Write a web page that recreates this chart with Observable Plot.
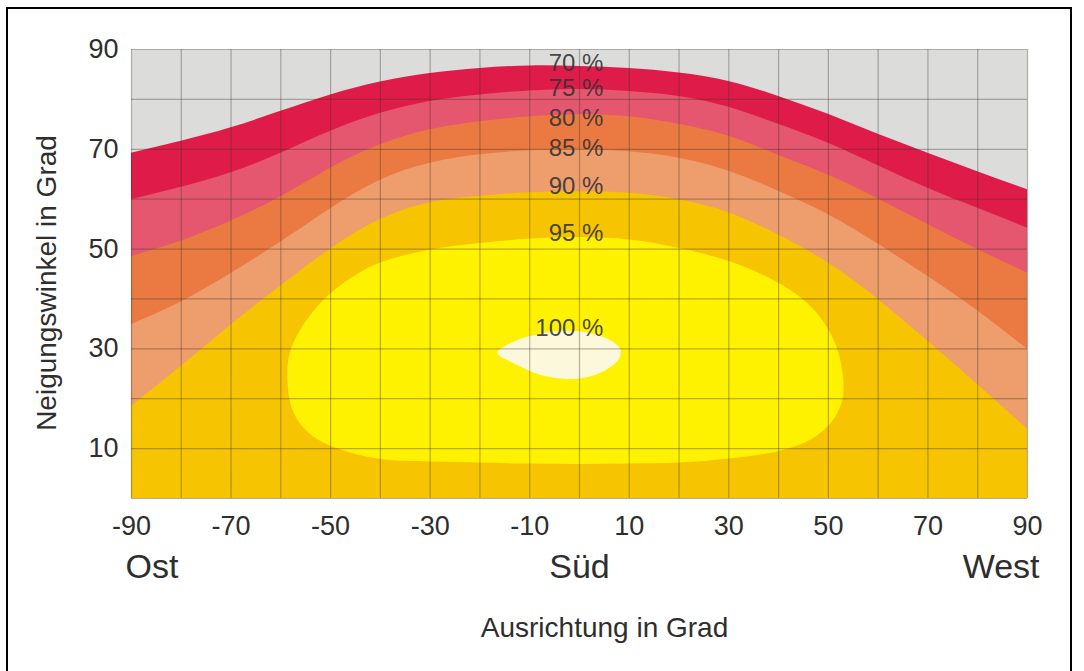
<!DOCTYPE html>
<html>
<head>
<meta charset="utf-8">
<script src="https://cdn.jsdelivr.net/npm/d3@7"></script>
<script src="https://cdn.jsdelivr.net/npm/@observablehq/plot@0.6"></script>
<style>
  html, body { margin: 0; padding: 0; background: #fff; }
  #wrap { position: relative; width: 1084px; height: 671px; overflow: hidden; }
  #border { position: absolute; left: 6px; top: 7px; width: 1066px; height: 700px; border: 2px solid #000; box-sizing: border-box; pointer-events: none; }
</style>
</head>
<body>
<div id="wrap"><div id="border"></div></div>
<script>
// Azimuth (Ausrichtung) samples and the upper boundary of each efficiency band (Neigungswinkel)
const azimuth = [-90, -80, -70, -60, -50, -40, -30, -20, -10, 0, 10, 20, 30, 40, 50, 60, 70, 80, 90];
const lvl70 = [69.2, 71.6, 74.3, 77.6, 80.9, 83.5, 85.2, 86.2, 86.7, 86.6, 86.2, 85.3, 83.6, 80.6, 77.0, 73.0, 69.2, 65.5, 61.9];
const lvl75 = [59.9, 62.4, 65.3, 69.2, 73.6, 77.2, 79.6, 80.9, 81.7, 82.0, 81.6, 80.6, 78.4, 75.0, 71.2, 66.7, 62.2, 58.2, 54.2];
const lvl80 = [48.5, 51.6, 55.6, 60.5, 66.2, 70.9, 73.9, 75.5, 76.5, 76.9, 76.5, 75.0, 72.6, 68.8, 64.8, 60.1, 54.9, 49.9, 45.2];
const lvl85 = [34.9, 39.4, 45.1, 51.4, 58.1, 63.8, 67.2, 68.9, 69.7, 69.9, 69.5, 68.2, 65.6, 61.6, 56.9, 51.0, 44.5, 37.6, 29.9];
const lvl90 = [18.5, 26.5, 34.8, 42.6, 50.0, 55.9, 59.3, 60.6, 61.3, 61.5, 61.2, 59.9, 57.3, 52.8, 47.2, 39.9, 31.5, 22.8, 13.9];

// closed 95 % region
const blob95Az   = [-58.7, -58.2, -56.3, -53.3, -49.5, -45, -40, -30, -20, -10, 0, 10, 20, 30, 37.5, 43.5, 48, 51.2, 52.8, 52.8, 50.5, 46.5, 40, 30, 20, 10, 0, -10, -20, -30, -40, -48.5, -54.2, -57.6];
const blob95Tilt = [24.3, 29.2, 33.5, 37.8, 41.6, 44.8, 47.3, 49.9, 51.2, 52.1, 52.4, 51.9, 50.2, 47.6, 44.5, 41.0, 36.8, 31.5, 25.5, 19.8, 15.2, 11.9, 9.5, 8.0, 7.2, 7.0, 6.9, 7.0, 7.2, 7.4, 7.9, 10.0, 13.0, 17.6];

// closed 100 % region
const blob100Az   = [-16.5, -13, -8, -4, 0, 4, 7, 8.3, 7.8, 5, 1, -3, -8, -13];
const blob100Tilt = [29.2, 31.5, 33, 33.6, 33.5, 32.6, 31.2, 29.6, 27.8, 25.6, 24.2, 24.0, 24.8, 27.0];

// contour labels
const labelText = ["70 %", "75 %", "80 %", "85 %", "90 %", "95 %", "100 %"];
const labelTilt = [87.2, 82.2, 76.2, 70.2, 62.5, 53.2, 34.2];
const labelAz   = [4.8, 4.8, 4.8, 4.8, 4.8, 4.8, 4.8];

// axes
const xTicks = [-90, -70, -50, -30, -10, 10, 30, 50, 70, 90];
const yTicks = [10, 30, 50, 70, 90];
const xGrid = [-90, -80, -70, -60, -50, -40, -30, -20, -10, 0, 10, 20, 30, 40, 50, 60, 70, 80, 90];
const yGrid = [0, 10, 20, 30, 40, 50, 60, 70, 80, 90];
const dirNames = ["Ost", "Süd", "West"];
const dirAz = [-90, 0, 90];
const xTitle = "Ausrichtung in Grad";
const yTitle = "Neigungswinkel in Grad";

const bands = [
  {values: lvl70, color: "#df1b4a"},
  {values: lvl75, color: "#e5566f"},
  {values: lvl80, color: "#ea7a42"},
  {values: lvl85, color: "#ee9d6d"},
  {values: lvl90, color: "#f6c400"}
];

const bandRows = bands.map(b => azimuth.map((a, i) => ({az: a, tilt: b.values[i]})));
const blob95 = blob95Az.map((a, i) => ({az: a, tilt: blob95Tilt[i]}));
const blob100 = blob100Az.map((a, i) => ({az: a, tilt: blob100Tilt[i]}));
const labels = labelText.map((t, i) => ({text: t, az: labelAz[i], tilt: labelTilt[i]}));
const dirs = dirNames.map((n, i) => ({name: n, az: dirAz[i]}));

const font = "'Liberation Sans', Arial, Helvetica, sans-serif";

const chart = Plot.plot({
  width: 1084,
  height: 671,
  marginLeft: 131,
  marginRight: 57,
  marginTop: 49,
  marginBottom: 173,
  x: {domain: [-90, 90]},
  y: {domain: [0, 90]},
  style: {fontFamily: font, color: "#2e2e2e", background: "transparent", overflow: "visible"},
  marks: [
    Plot.frame({fill: "#dcdddb", stroke: "none"}),
    ...bands.map((b, k) => Plot.areaY(bandRows[k], {x: "az", y: "tilt", fill: b.color, curve: "natural"})),
    Plot.line(blob95, {x: "az", y: "tilt", fill: "#fff200", stroke: "none", curve: "catmull-rom-closed"}),
    Plot.line(blob100, {x: "az", y: "tilt", fill: "#fcf8dc", stroke: "none", curve: "catmull-rom-closed"}),
    Plot.gridX(xGrid, {stroke: "#3c3428", strokeOpacity: 0.36, strokeWidth: 1.2}),
    Plot.gridY(yGrid, {stroke: "#3c3428", strokeOpacity: 0.36, strokeWidth: 1.2}),
    Plot.axisY(yTicks, {tickSize: 0, tickPadding: 13, fontSize: 27, label: null, tickFormat: d => String(d)}),
    Plot.axisX(xTicks, {tickSize: 0, tickPadding: 17, fontSize: 27, label: null, tickFormat: d => String(d)}),
    Plot.text(labels, {x: "az", y: "tilt", text: "text", textAnchor: "end", fontSize: 24, fill: "#333", fillOpacity: 0.9}),
    Plot.text(dirs.filter(d => d.az < 0), {x: "az", text: "name", frameAnchor: "bottom", textAnchor: "start", dx: -6, dy: 69, lineAnchor: "middle", fontSize: 34}),
    Plot.text(dirs.filter(d => d.az === 0), {x: "az", text: "name", frameAnchor: "bottom", textAnchor: "middle", dy: 69, lineAnchor: "middle", fontSize: 34}),
    Plot.text(dirs.filter(d => d.az > 0), {x: "az", text: "name", frameAnchor: "bottom", textAnchor: "end", dx: 12, dy: 69, lineAnchor: "middle", fontSize: 34}),
    Plot.text([xTitle], {text: d => d, frameAnchor: "bottom", textAnchor: "middle", dx: 25, dy: 130, lineAnchor: "middle", fontSize: 28}),
    Plot.text([yTitle], {text: d => d, frameAnchor: "left", textAnchor: "middle", rotate: -90, dx: -84, dy: 9, lineAnchor: "middle", fontSize: 28})
  ]
});

document.getElementById("wrap").prepend(chart);
</script>
</body>
</html>
